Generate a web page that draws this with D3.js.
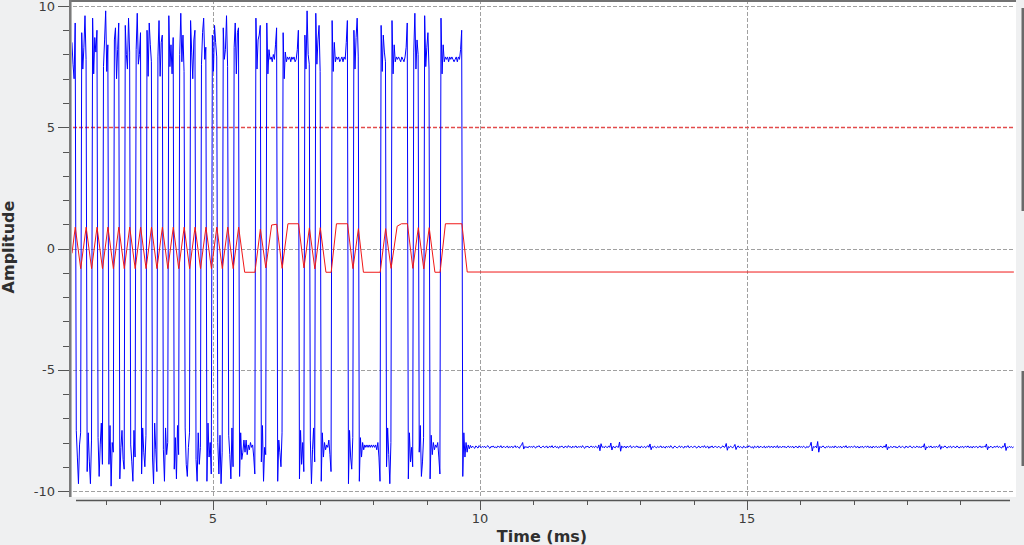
<!DOCTYPE html>
<html><head><meta charset="utf-8">
<script src="https://cdn.jsdelivr.net/npm/d3@7"></script>
<style>html,body{margin:0;padding:0;background:#eff0f1;overflow:hidden}svg{display:block}</style>
</head><body><svg id="chart" width="1024" height="545"></svg>
<script>
// ---------- data ----------
const xDomain = [2.36, 20.04];          // ms
const yDomain = [-10, 10];
const xMajorTicks = [5, 10, 15];
const xMinorTicks = [3, 4, 6, 7, 8, 9, 11, 12, 13, 14, 16, 17, 18, 19];
const yMajorTicks = [-10, -5, 0, 5, 10];
const yMinorTicks = [-9, -8, -7, -6, -4, -3, -2, -1, 1, 2, 3, 4, 6, 7, 8, 9];
const xTickLabels = ["5", "10", "15"];
const yTickLabels = ["-10", "-5", "0", "5", "10"];
const triggerLevel = 5;
const xTitle = "Time (ms)";
const yTitle = "Amplitude";

// Data 0 (blue): samples, first sample time and sample spacing in ms
const blueStart = 2.3586;
const blueStep = 0.02039;
const blueValues = [
  8.5, 7.6, 7.0, 9.3,
  -7.5, -8.6, -9.7, -8.1, -7.6,
  8.9, 7.4, 8.3, 9.6, 7.8,
  -9.2, -7.6, -8.8, -9.7, -7.9,
  9.5, 7.2, 8.7, 8.1, 9.0,
  -7.8, -9.4, -8.1, -7.2, -8.9,
  7.5, 8.6, 9.8, 7.3, 8.4,
  -8.9, -7.3, -9.8, -8.0, -8.4,
  8.6, 9.1, 7.0, 8.2, 9.3,
  -9.5, -8.2, -7.5, -8.7, -9.1,
  9.2, 8.0, 7.4, 9.5, 8.1,
  -8.1, -8.8, -9.6, -7.5, -8.6,
  8.2, 9.7, 7.6, 8.0, 8.9,
  -9.3, -7.4, -8.4, -9.0, -7.7,
  9.0, 7.1, 9.3, 8.4, 7.7,
  -8.6, -9.7, -7.2, -8.3, -9.2,
  7.9, 9.4, 7.1, 8.5, 8.8,
  -8.3, -9.6, -7.4, -8.5, -8.0,
  9.6, 7.5, 8.4, 7.2, 8.7,
  -9.1, -7.8, -9.5, -7.3, -8.5,
  8.0, 9.7, 7.7, 8.8, 7.3,
  -7.4, -8.9, -9.4, -8.2, -7.6,
  9.4, 8.1, 7.0, 8.6, 9.0,
  -8.7, -9.6, -7.6, -8.9, -8.2,
  7.6, 8.9, 9.5, 7.8, 8.3,
  -9.6, -7.2, -8.6, -8.0, -9.3,
  8.8, 7.3, 9.2, 8.5, 7.9,
  -8.0, -9.3, -7.7, -9.7, -8.4,
  9.1, 7.8, 8.2, 9.6, 7.5,
  -7.7, -8.5, -9.5, -7.4, -9.0,
  8.3, 9.3, 7.2, 8.9, 9.1,
  -9.4, -7.6, -8.7, -8.4, -7.9,
  -8.4, -7.9, -8.5, -8.1, -8.3,
  -8.0, -8.2, -8.1, -8.6, -9.3,
  9.5, 7.4, 8.6, 8.8, 9.2,
  -8.8, -7.3, -9.6, -8.2, -8.5,
  9.3, 7.2, 8.2, 7.8, 7.9,
  7.7, 8.0, 7.8, 8.4, 9.1,
  -9.6, -7.9, -8.4, -9.0, -7.6,
  8.9, 7.0, 8.1, 7.7, 7.9,
  7.8, 7.9, 7.7, 7.9, 7.8,
  7.9, 7.7, 7.8, 8.2, 9.0,
  -9.5, -7.5, -8.9, -8.0, -9.2,
  8.8, 7.4, 9.8, 8.0, 7.6,
  -7.9, -9.7, -8.3, -7.4, -8.8,
  9.7, 7.6, 8.6, 9.2, 7.3,
  -9.6, -7.6, -8.6, -8.0, -8.3,
  -8.1, -8.2, -7.9, -8.5, -9.2,
  9.4, 7.3, 8.5, 7.7, 7.9,
  7.8, 7.9, 7.7, 7.8, 7.9,
  7.7, 7.9, 7.8, 8.5, 9.4,
  -9.7, -7.5, -8.6, -9.1, -7.8,
  9.0, 7.4, 8.7, 9.5, 7.9,
  -9.6, -7.8, -8.6, -8.0, -8.3,
  -8.1, -8.2, -8.1, -8.2, -8.1,
  -8.2, -8.1, -8.2, -8.1, -8.2,
  -8.1, -8.3, -8.0, -8.6, -9.6,
  9.2, 7.3, 8.8, 8.1, 7.7,
  -9.0, -7.4, -8.5, -9.7, -8.0,
  9.4, 7.2, 8.4, 7.7, 7.9,
  7.8, 7.9, 7.8, 7.7, 7.9,
  7.8, 7.7, 7.9, 8.3, 9.3,
  -9.5, -7.6, -8.8, -8.2, -9.0,
  8.1, 9.7, 7.4, 8.6, 8.0,
  -8.4, -7.3, -9.4, -8.8, -7.8,
  9.6, 7.5, 8.3, 8.9, 7.4,
  -9.5, -7.7, -8.5, -8.0, -8.3,
  -8.1, -8.2, -8.0, -8.6, -9.3,
  9.5, 7.2, 8.4, 7.7, 7.9,
  7.8, 7.9, 7.7, 7.9, 7.8,
  7.9, 7.8, 7.7, 7.8, 7.9,
  7.7, 7.9, 7.8, 8.2, 9.0,
  // idle tail
  -9.4, -7.6, -8.6, -8.0, -8.4, -8.1, -8.26, -8.12, -8.22, -8.15, -8.2, -8.24, -8.14, -8.19, -8.23, -8.13, -8.18, -8.21, -8.16, -8.2,
  -8.15, -8.22, -8.17, -8.13, -8.2, -8.24, -8.16, -8.19, -8.14, -8.21, -8.18, -8.23, -8.15, -8.17, -8.2, -8.13, -8.22, -8.18, -8.16, -8.21,
  -8.19, -8.14, -8.23, -8.17, -8.2, -8.15, -8.22, -8.18, -8.13, -8.21, -8.16, -8.19, -8.24, -8.15, -8.1, -8.0, -8.27, -8.16, -8.2, -8.18,
  -8.22, -8.15, -8.19, -8.17, -8.21, -8.14, -8.2, -8.23, -8.16, -8.18, -8.13, -8.2, -8.22, -8.17, -8.15, -8.21, -8.19, -8.14, -8.23, -8.18,
  -8.16, -8.2, -8.13, -8.22, -8.18, -8.15, -8.21, -8.17, -8.24, -8.16, -8.19, -8.14, -8.2, -8.22, -8.15, -8.18, -8.21, -8.13, -8.19, -8.17,
  -8.23, -8.15, -8.2, -8.18, -8.14, -8.22, -8.17, -8.19, -8.16, -8.21, -8.13, -8.2, -8.24, -8.16, -8.18, -8.15, -8.22, -8.19, -8.14, -8.2,
  -8.17, -8.21, -8.15, -8.19, -8.23, -8.1, -8.34, -8.05, -8.2, -8.17, -8.22, -8.15, -8.19, -8.21, -8.14, -8.2, -8.02, -8.31, -8.16, -8.19,
  -8.22, -8.15, -8.18, -8.2, -7.98, -8.36, -8.14, -8.21, -8.18, -8.16, -8.23, -8.15, -8.2, -8.17, -8.13, -8.22, -8.19, -8.16, -8.2, -8.18,
  -8.14, -8.21, -8.17, -8.23, -8.15, -8.19, -8.2, -8.16, -8.22, -8.18, -8.13, -8.2, -8.06, -8.3, -8.17, -8.21, -8.15, -8.19, -8.22, -8.16,
  -8.2, -8.18, -8.14, -8.22, -8.17, -8.19, -8.23, -8.15, -8.2, -8.16, -8.21, -8.13, -8.19, -8.24, -8.17, -8.15, -8.2, -8.22, -8.18, -8.14,
  -8.21, -8.16, -8.19, -8.23, -8.15, -8.2, -8.17, -8.13, -8.22, -8.18, -8.16, -8.21, -8.19, -8.14, -8.2, -8.23, -8.17, -8.15, -8.22, -8.18,
  -8.16, -8.2, -8.13, -8.21, -8.19, -8.15, -8.24, -8.17, -8.2, -8.14, -8.22, -8.18, -8.16, -8.19, -8.21, -8.15, -8.2, -8.23, -8.17, -8.14,
  -8.2, -8.18, -8.04, -8.32, -8.17, -8.21, -8.15, -8.19, -8.22, -8.16, -8.08, -8.29, -8.18, -8.14, -8.21, -8.17, -8.2, -8.23, -8.15, -8.19,
  -8.22, -8.16, -8.2, -8.13, -8.18, -8.21, -8.17, -8.24, -8.15, -8.19, -8.2, -8.14, -8.22, -8.18, -8.16, -8.21, -8.19, -8.15, -8.23, -8.17,
  -8.2, -8.14, -8.21, -8.18, -8.16, -8.22, -8.15, -8.19, -8.2, -8.13, -8.23, -8.17, -8.18, -8.21, -8.15, -8.2, -8.16, -8.22, -8.19, -8.14,
  -8.21, -8.17, -8.2, -8.15, -8.23, -8.18, -8.16, -8.19, -8.22, -8.14, -8.2, -8.17, -8.21, -8.15, -8.19, -8.23, -8.16, -8.2, -8.18, -8.12,
  -7.99, -8.35, -8.17, -8.2, -8.15, -8.22, -7.96, -8.4, -8.16, -8.21, -8.18, -8.14, -8.2, -8.23, -8.17, -8.19, -8.15, -8.21, -8.18, -8.2,
  -8.16, -8.22, -8.14, -8.19, -8.21, -8.17, -8.2, -8.15, -8.23, -8.18, -8.16, -8.2, -8.13, -8.22, -8.19, -8.17, -8.21, -8.15, -8.2, -8.18,
  -8.14, -8.21, -8.19, -8.16, -8.23, -8.17, -8.2, -8.15, -8.22, -8.18, -8.16, -8.2, -8.14, -8.21, -8.19, -8.17, -8.23, -8.15, -8.2, -8.18,
  -8.16, -8.22, -8.17, -8.2, -8.15, -8.19, -8.21, -8.14, -8.2, -8.07, -8.3, -8.18, -8.22, -8.16, -8.19, -8.21, -8.15, -8.2, -8.17, -8.23,
  -8.18, -8.14, -8.21, -8.19, -8.16, -8.2, -8.23, -8.15, -8.18, -8.21, -8.17, -8.14, -8.2, -8.22, -8.16, -8.19, -8.21, -8.15, -8.18, -8.2,
  -8.17, -8.22, -8.15, -8.19, -8.05, -8.31, -8.18, -8.21, -8.16, -8.2, -8.14, -8.22, -8.19, -8.17, -8.21, -8.15, -8.2, -8.18, -8.09, -8.28,
  -8.16, -8.21, -8.18, -8.14, -8.2, -8.23, -8.17, -8.19, -8.15, -8.22, -8.18, -8.16, -8.2, -8.21, -8.14, -8.19, -8.23, -8.17, -8.2, -8.15,
  -8.22, -8.18, -8.16, -8.2, -8.14, -8.21, -8.19, -8.17, -8.23, -8.15, -8.2, -8.18, -8.16, -8.22, -8.19, -8.14, -8.21, -8.17, -8.2, -8.15,
  -8.19, -8.06, -8.3, -8.17, -8.21, -8.15, -8.2, -8.22, -8.16, -8.19, -8.18, -8.14, -8.21, -8.17, -8.2, -8.23, -8.15, -8.19, -8.03, -8.33,
  -8.18, -8.21, -8.16, -8.2, -8.17, -8.22, -8.18
];

// Data 1 (red): line vertices (time in ms, amplitude)
const redTimes = [
  2.360, 2.421, 2.523, 2.625, 2.727, 2.829, 2.931, 3.033, 3.135, 3.237, 3.339,
  3.441, 3.543, 3.645, 3.747, 3.849, 3.951, 4.053, 4.155, 4.257, 4.359,
  4.461, 4.563, 4.665, 4.767, 4.869, 4.971, 5.073, 5.175, 5.277, 5.379, 5.481,
  5.594, 5.786, 5.888, 5.990, 6.099, 6.194, 6.296, 6.404, 6.602, 6.704,
  6.806, 6.908, 7.010, 7.116, 7.214, 7.313, 7.520, 7.622, 7.724, 7.818,
  8.132, 8.234, 8.336, 8.450, 8.530, 8.642, 8.744, 8.846, 8.948, 9.050,
  9.157, 9.254, 9.354, 9.662, 9.762, 20.0
];
const redValues = [
  -0.20, 0.88, -0.83, 0.88, -0.83, 0.88, -0.83, 0.88, -0.83, 0.88, -0.83,
  0.88, -0.83, 0.88, -0.83, 0.88, -0.83, 0.88, -0.83, 0.88, -0.83,
  0.88, -0.83, 0.88, -0.83, 0.88, -0.83, 0.88, -0.83, 0.88, -0.83, 0.88,
  -0.98, -0.98, 0.80, -0.80, 0.97, 1.00, -0.82, 1.02, 1.02, -0.80,
  0.85, -0.84, 0.86, -0.98, -0.98, 1.02, 1.02, -0.83, 0.82, -0.98,
  -0.98, 0.82, -0.82, 0.92, 1.02, 1.02, -0.82, 0.86, -0.84, 0.86,
  -0.98, -0.98, 1.02, 1.02, -0.97, -0.97
];

// ---------- drawing ----------
const svg = d3.select("#chart");
const W = 1024, H = 545;
const canvas = {left: 72, right: 1016, top: 0, bottom: 497};
const x = d3.scaleLinear().domain(xDomain).range([canvas.left, canvas.right]);
const y = d3.scaleLinear().domain(yDomain).range([491, 6]);
const px = v => Math.round(v) + 0.5;

svg.append("rect").attr("width", W).attr("height", H).attr("fill", "#eff0f1");
svg.append("rect").attr("x", canvas.left).attr("y", canvas.top)
  .attr("width", canvas.right - canvas.left).attr("height", canvas.bottom - canvas.top)
  .attr("fill", "#ffffff");

svg.append("defs").append("clipPath").attr("id", "clip").append("rect")
  .attr("x", canvas.left).attr("y", canvas.top)
  .attr("width", canvas.right - canvas.left).attr("height", canvas.bottom - canvas.top);

// grid (the trigger level row is covered by the trigger marker)
const grid = svg.append("g").attr("stroke", "#a0a0a0").attr("stroke-width", 1)
  .attr("stroke-dasharray", "4,2").attr("fill", "none");
yMajorTicks.filter(v => v !== triggerLevel).forEach(v => grid.append("line")
  .attr("x1", canvas.left + 1).attr("x2", 1014).attr("y1", px(y(v))).attr("y2", px(y(v))));
xMajorTicks.forEach(v => grid.append("line")
  .attr("y1", canvas.top).attr("y2", canvas.bottom).attr("x1", px(x(v))).attr("x2", px(x(v))));

// trigger level marker
svg.append("line").attr("x1", canvas.left + 1).attr("x2", 1014)
  .attr("y1", px(y(triggerLevel))).attr("y2", px(y(triggerLevel)))
  .attr("stroke", "#e24c4c").attr("stroke-width", 1.6).attr("stroke-dasharray", "4,2");

// curves
const line = d3.line().x(d => x(d[0])).y(d => y(d[1]));
const bluePts = blueValues.map((v, i) => [blueStart + i * blueStep, v]);
const redPts = redTimes.map((t, i) => [t, redValues[i]]);
const plot = svg.append("g").attr("clip-path", "url(#clip)");
plot.append("path").datum(bluePts).attr("d", line)
  .attr("fill", "none").attr("stroke", "#0000ff").attr("stroke-width", 1);
plot.append("path").datum(redPts).attr("d", line)
  .attr("fill", "none").attr("stroke", "#f01818").attr("stroke-width", 1);

// frame / backbones
svg.append("rect").attr("x", 69).attr("y", 0).attr("width", 947).attr("height", 2).attr("fill", "#727272");
svg.append("rect").attr("x", 69).attr("y", 0).attr("width", 2.5).attr("height", 497).attr("fill", "#7a7a7a");
svg.append("line").attr("x1", 76).attr("x2", 1010).attr("y1", 500.5).attr("y2", 500.5)
  .attr("stroke", "#555").attr("stroke-width", 1.5);
svg.append("rect").attr("x", 1021.5).attr("y", 8).attr("width", 2.5).attr("height", 203).attr("fill", "#6a6a6a");
svg.append("rect").attr("x", 1021.5).attr("y", 371).attr("width", 2.5).attr("height", 95).attr("fill", "#6a6a6a");

// ticks
const ticks = svg.append("g").attr("stroke", "#555").attr("stroke-width", 1);
yMajorTicks.forEach(v => ticks.append("line").attr("x1", 58).attr("x2", 69)
  .attr("y1", px(y(v))).attr("y2", px(y(v))));
yMinorTicks.forEach(v => ticks.append("line").attr("x1", 63).attr("x2", 69)
  .attr("y1", px(y(v))).attr("y2", px(y(v))));
xMajorTicks.forEach(v => ticks.append("line").attr("y1", 501).attr("y2", 510)
  .attr("x1", px(x(v))).attr("x2", px(x(v))));
xMinorTicks.forEach(v => ticks.append("line").attr("y1", 501).attr("y2", 505)
  .attr("x1", px(x(v))).attr("x2", px(x(v))));

// tick labels
const font = "'DejaVu Sans', sans-serif";
svg.append("g").selectAll("text").data(yMajorTicks).join("text")
  .attr("x", 55).attr("y", d => y(d)).attr("dy", "0.36em")
  .attr("text-anchor", "end").attr("font-family", font).attr("font-size", 13)
  .attr("fill", "#3c3c3c").text((d, i) => yTickLabels[i]);
svg.append("g").selectAll("text").data(xMajorTicks).join("text")
  .attr("x", d => x(d)).attr("y", 523)
  .attr("text-anchor", "middle").attr("font-family", font).attr("font-size", 13)
  .attr("fill", "#3c3c3c").text((d, i) => xTickLabels[i]);

// axis titles
svg.append("text").attr("x", 542).attr("y", 542).attr("text-anchor", "middle")
  .attr("font-family", font).attr("font-weight", "bold").attr("font-size", 16)
  .attr("fill", "#2f2f2f").text(xTitle);
svg.append("text").attr("transform", "translate(14,247) rotate(-90)").attr("text-anchor", "middle")
  .attr("font-family", font).attr("font-weight", "bold").attr("font-size", 16)
  .attr("fill", "#2f2f2f").text(yTitle);
</script>
</body></html>
